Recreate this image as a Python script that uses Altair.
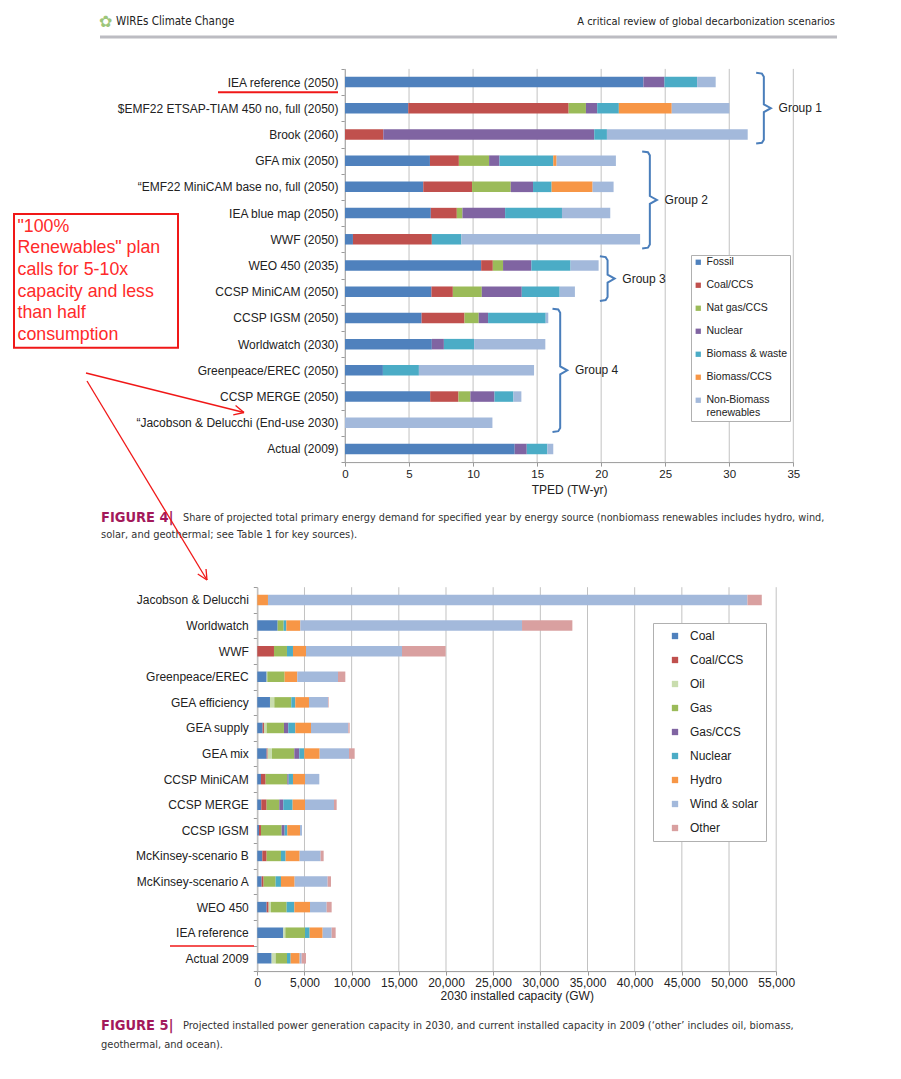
import math
import altair as alt
import pandas as pd

# ---------------- Figure 4 values (TPED, TW-yr) ----------------
fig4_scenarios = [
    "IEA reference (2050)",
    "$EMF22 ETSAP-TIAM 450 no, full (2050)",
    "Brook (2060)",
    "GFA mix (2050)",
    "\u201cEMF22 MiniCAM base no, full (2050)",
    "IEA blue map (2050)",
    "WWF (2050)",
    "WEO 450 (2035)",
    "CCSP MiniCAM (2050)",
    "CCSP IGSM (2050)",
    "Worldwatch (2030)",
    "Greenpeace/EREC (2050)",
    "CCSP MERGE (2050)",
    "\u201cJacobson & Delucchi (End-use 2030)",
    "Actual (2009)",
]
fig4_sources = ["Fossil", "Coal/CCS", "Nat gas/CCS", "Nuclear", "Biomass & waste",
                "Biomass/CCS", "Non-Biomass renewables"]
fig4_fossil = [23.3, 4.94, 0, 6.63, 6.11, 6.7, 0.62, 10.63, 6.75, 5.98, 6.78, 2.96, 6.65, 0, 13.25]
fig4_coal_ccs = [0, 12.52, 2.99, 2.26, 3.81, 2.03, 6.16, 0.91, 1.67, 3.35, 0, 0, 2.21, 0, 0]
fig4_natgas_ccs = [0, 1.35, 0, 2.36, 3.02, 0.44, 0, 0.8, 2.26, 1.11, 0, 0, 0.93, 0, 0]
fig4_nuclear = [1.64, 0.88, 16.47, 0.81, 1.74, 3.33, 0, 2.21, 3.12, 0.73, 0.94, 0, 1.88, 0, 0.94]
fig4_biomass = [2.55, 1.69, 0.99, 4.2, 1.45, 4.44, 2.31, 3.06, 2.96, 4.5, 2.36, 2.81, 1.48, 0, 1.61]
fig4_biomass_ccs = [0, 4.13, 0, 0.26, 3.2, 0, 0, 0, 0, 0, 0, 0, 0, 0, 0]
fig4_nonbio = [1.45, 4.5, 10.99, 4.63, 1.64, 3.77, 13.95, 2.19, 1.19, 0.2, 5.56, 8.99, 0.62, 11.51, 0.46]
fig4_ticks = [0, 5, 10, 15, 20, 25, 30, 35]

group_names = ["Group 1", "Group 2", "Group 3", "Group 4"]
group_first = [0, 3, 7, 9]
group_last = [2, 6, 8, 13]
group_x = [32.1, 23.2, 19.9, 16.2]

# ---------------- Figure 5 values (GW, 2030) ----------------
fig5_scenarios = ["Jacobson & Delucchi", "Worldwatch", "WWF", "Greenpeace/EREC", "GEA efficiency",
                  "GEA supply", "GEA mix", "CCSP MiniCAM", "CCSP MERGE", "CCSP IGSM",
                  "McKinsey-scenario B", "McKinsey-scenario A", "WEO 450", "IEA reference",
                  "Actual 2009"]
fig5_sources = ["Coal", "Coal/CCS", "Oil", "Gas", "Gas/CCS", "Nuclear", "Hydro", "Wind & solar", "Other"]
fig5_coal = [0, 2156, 0, 990, 1343, 565, 990, 389, 424, 177, 530, 459, 990, 2757, 1520]
fig5_coal_ccs = [0, 0, 1767, 0, 0, 141, 106, 495, 565, 212, 459, 212, 212, 0, 0]
fig5_oil = [0, 0, 0, 70, 459, 283, 459, 0, 0, 0, 0, 0, 247, 212, 424]
fig5_gas = [0, 636, 1378, 1838, 1802, 1838, 2368, 2297, 1343, 2191, 1520, 1272, 1661, 2085, 1202]
fig5_gas_ccs = [0, 0, 0, 0, 0, 459, 530, 141, 424, 318, 0, 0, 0, 0, 0]
fig5_nuclear = [0, 283, 636, 0, 424, 742, 530, 459, 990, 283, 495, 565, 813, 495, 389]
fig5_hydro = [1131, 1484, 1378, 1343, 1449, 1661, 1626, 1272, 1308, 1343, 1484, 1449, 1661, 1378, 954]
fig5_wind_solar = [50820, 23500, 10178, 4312, 2014, 3958, 3110, 1520, 3075, 212, 2226, 3499, 1767, 954, 212]
fig5_other = [1520, 5336, 4630, 777, 70, 141, 601, 0, 283, 0, 318, 353, 530, 424, 459]
fig5_ticks = [0, 5000, 10000, 15000, 20000, 25000, 30000, 35000, 40000, 45000, 50000, 55000]

# ---------------- styles ----------------
fig4_colors = ["#4F81BD", "#C0504D", "#9BBB59", "#8064A2", "#4BACC6", "#F79646", "#A3B9DB"]
fig5_colors = ["#4F81BD", "#C0504D", "#C9DDAE", "#9BBB59", "#8064A2", "#4BACC6", "#F79646", "#A3B9DB", "#D9A0A0"]
FONT = "Liberation Sans, Arial, Helvetica, sans-serif"
NARROW = "Liberation Sans Narrow, Arial Narrow, DejaVu Sans Condensed, Liberation Sans, sans-serif"
RED = "#f01818"
W, H = 885, 1060
TOP_X = [337, 785.3]
TOP_Y = [60.9, 454.1]
BOT_X = [249.3, 768.2]
BOT_Y = [579.2, 963.1]


def long_table(scenarios, sources, series):
    rows = []
    for i, sc in enumerate(scenarios):
        for k, (src, vals) in enumerate(zip(sources, series)):
            rows.append({"scenario": sc, "source": src, "value": vals[i], "k": k})
    return pd.DataFrame(rows)


df4 = long_table(fig4_scenarios, fig4_sources,
                 [fig4_fossil, fig4_coal_ccs, fig4_natgas_ccs, fig4_nuclear, fig4_biomass,
                  fig4_biomass_ccs, fig4_nonbio])
df5 = long_table(fig5_scenarios, fig5_sources,
                 [fig5_coal, fig5_coal_ccs, fig5_oil, fig5_gas, fig5_gas_ccs, fig5_nuclear,
                  fig5_hydro, fig5_wind_solar, fig5_other])

x4 = alt.Scale(domain=[0, 35], range=TOP_X, nice=False, zero=False)
y4 = alt.Scale(domain=fig4_scenarios, range=TOP_Y, paddingInner=0, paddingOuter=0)
r4 = alt.Scale(domain=[-0.5, 14.5], range=TOP_Y, nice=False, zero=False)
x5 = alt.Scale(domain=[0, 55000], range=BOT_X, nice=False, zero=False)
y5 = alt.Scale(domain=fig5_scenarios, range=BOT_Y, paddingInner=0, paddingOuter=0)
r5 = alt.Scale(domain=[-0.5, 14.5], range=BOT_Y, nice=False, zero=False)


def grid(ticks, xs, rs):
    d = pd.DataFrame({"t": ticks, "lo": [-0.5] * len(ticks), "hi": [14.5] * len(ticks)})
    return alt.Chart(d).mark_rule(color="#c2c2c2", strokeWidth=1).encode(
        x=alt.X("t:Q", scale=xs, axis=None),
        y=alt.Y("lo:Q", scale=rs, axis=None),
        y2="hi:Q",
    )


def bars(df, xs, ys, ticks, xtitle, xfmt, yoff_axis, xoff_axis, sources, colors, legend,
         lab_pad, title_pad, xlab_size):
    return alt.Chart(df).mark_bar(size=10.5).encode(
        y=alt.Y("scenario:N", scale=ys, title=None,
                axis=alt.Axis(orient="left", offset=-yoff_axis, labelFont=FONT, labelFontSize=12,
                              labelColor="#222", labelLimit=400, tickBand="extent", tickSize=4,
                              tickColor="#9a9a9a", domainColor="#9a9a9a", labelPadding=lab_pad,
                              grid=False)),
        x=alt.X("value:Q", stack="zero", scale=xs,
                axis=alt.Axis(orient="bottom", offset=xoff_axis - H, values=ticks, format=xfmt,
                              title=xtitle, titleFont=FONT, titleFontSize=12,
                              titleFontWeight="normal", titleColor="#222", titlePadding=title_pad,
                              labelFont=FONT, labelFontSize=xlab_size, labelColor="#222",
                              labelFlush=False, labelOverlap=False, labelPadding=2,
                              tickSize=4, tickColor="#9a9a9a", domainColor="#9a9a9a", grid=False)),
        color=alt.Color("source:N", scale=alt.Scale(domain=sources, range=colors), legend=legend),
        order=alt.Order("k:Q"),
    )


legend4 = alt.Legend(orient="none", legendX=683, legendY=247, title=None, symbolType="square",
                     symbolSize=28, symbolStrokeWidth=0, labelFont=FONT, labelFontSize=10.5,
                     labelColor="#222", labelLimit=300, rowPadding=12, labelOffset=3, padding=2,
                     strokeColor="#b0b0b0", fillColor="white",
                     labelExpr="datum.label == 'Non-Biomass renewables' ? ['Non-Biomass', 'renewables'] : datum.label")
legend5 = alt.Legend(orient="none", legendX=645, legendY=615, title=None, symbolType="square",
                     symbolSize=40, symbolStrokeWidth=0, labelFont=FONT, labelFontSize=12,
                     labelColor="#222", labelLimit=300, rowPadding=12, labelOffset=9, padding=7,
                     symbolOffset=9, strokeColor="#b0b0b0", fillColor="white")

bars4 = bars(df4, x4, y4, fig4_ticks, "TPED (TW-yr)", "d", TOP_X[0], TOP_Y[1], fig4_sources,
             fig4_colors, legend4, 3, 5, 11.5)
bars5 = bars(df5, x5, y5, fig5_ticks, "2030 installed capacity (GW)", ",.0f", BOT_X[0], BOT_Y[1],
             fig5_sources, fig5_colors, legend5, 5, 2, 12)

# ---- group brackets (curly braces) on the Figure 4 scales ----
brows = []
lrows = []
for g, name in enumerate(group_names):
    gx = group_x[g]
    top = group_first[g] - 0.35
    bot = group_last[g] + 0.35
    mid = (top + bot) / 2
    xs = gx + 0.6
    xt = xs + 0.55
    pts = [(gx, top), (gx + 0.45, top + 0.03), (xs, top + 0.15), (xs, mid - 0.15), (xt, mid),
           (xs, mid + 0.15), (xs, bot - 0.15), (gx + 0.45, bot - 0.03), (gx, bot)]
    for i, (px, py) in enumerate(pts):
        brows.append({"g": name, "i": i, "bx": px, "by": py})
    lrows.append({"g": name, "lx": gx + 1.75, "ly": mid})

brackets = alt.Chart(pd.DataFrame(brows)).mark_line(color="#4a7ebb", strokeWidth=2).encode(
    x=alt.X("bx:Q", scale=x4, axis=None),
    y=alt.Y("by:Q", scale=r4, axis=None),
    detail="g:N",
    order=alt.Order("i:Q"),
)
bracket_labels = alt.Chart(pd.DataFrame(lrows)).mark_text(
    align="left", baseline="middle", font=FONT, fontSize=12, color="#222").encode(
    x=alt.X("lx:Q", scale=x4, axis=None),
    y=alt.Y("ly:Q", scale=r4, axis=None),
    text="g:N",
)


# ---------------- page decorations ----------------
def txt(s, x, y, size, color="#222", font=FONT, weight="normal", align="left"):
    return alt.Chart(alt.Data(values=[{"t": s}])).mark_text(
        align=align, baseline="middle", font=font, fontSize=size, color=color,
        fontWeight=weight).encode(x=alt.value(x), y=alt.value(y), text="t:N")


def seg(x1, y1, x2, y2, color, width):
    return alt.Chart(alt.Data(values=[{"a": 0}])).mark_rule(
        color=color, strokeWidth=width).encode(
        x=alt.value(x1), y=alt.value(y1), x2=alt.value(x2), y2=alt.value(y2))


def arrow(x1, y1, x2, y2, head=11, ang=26):
    out = [seg(x1, y1, x2, y2, RED, 1.3)]
    L = math.hypot(x2 - x1, y2 - y1)
    vx, vy = -(x2 - x1) / L, -(y2 - y1) / L
    for s in (1, -1):
        a = math.radians(ang * s)
        rx = vx * math.cos(a) - vy * math.sin(a)
        ry = vx * math.sin(a) + vy * math.cos(a)
        out.append(seg(x2, y2, x2 + head * rx, y2 + head * ry, RED, 1.3))
    return out


deco = []
# header
deco.append(txt("\u273f", 97, 14, 16, color="#9dc67a", align="center"))
deco.append(txt("WIREs Climate Change", 108, 14, 11.5, font=NARROW))
deco.append(txt("A critical review of global decarbonization scenarios", 827, 14, 11,
                font=NARROW, align="right"))
deco.append(seg(92, 29, 829, 29, "#bcbcc2", 3))
# captions
deco.append(txt("FIGURE 4|", 93, 510, 14.5, color="#a3195b", weight="bold", font=NARROW))
deco.append(txt("Share of projected total primary energy demand for specified year by energy source "
                "(nonbiomass renewables includes hydro, wind,", 175, 510, 10.8, font=NARROW,
                color="#333"))
deco.append(txt("solar, and geothermal; see Table 1 for key sources).", 93, 527, 11, font=NARROW,
                color="#333"))
deco.append(txt("FIGURE 5|", 93, 1018, 14.5, color="#a3195b", weight="bold", font=NARROW))
deco.append(txt("Projected installed power generation capacity in 2030, and current installed "
                "capacity in 2009 (\u2018other\u2019 includes oil, biomass,", 175, 1018, 11,
                font=NARROW, color="#333"))
deco.append(txt("geothermal, and ocean).", 93, 1037, 11, font=NARROW, color="#333"))
# red annotation box
deco.append(alt.Chart(alt.Data(values=[{"a": 0}])).mark_rect(
    fill="white", stroke=RED, strokeWidth=2).encode(
    x=alt.value(6), x2=alt.value(170), y=alt.value(206), y2=alt.value(339.7)))
note_lines = ["\"100%", "Renewables\" plan", "calls for 5-10x", "capacity and less", "than half",
              "consumption"]
for i, line in enumerate(note_lines):
    deco.append(txt(line, 9.5, 218.7 + i * 21.66, 17.8, color="#ff2a2a"))
deco += arrow(78, 365, 236, 404.5)
deco += arrow(79, 373, 199, 572)
deco.append(seg(210, 84.3, 330, 84.3, RED, 2))
deco.append(seg(162, 938, 246, 938, RED, 1.5))

chart = alt.layer(
    grid(fig4_ticks, x4, r4), grid(fig5_ticks, x5, r5), bars4, bars5, brackets, bracket_labels,
    *deco
).resolve_scale(
    x="independent", y="independent", color="independent"
).resolve_axis(
    x="independent", y="independent"
).resolve_legend(
    color="independent"
).properties(
    width=W, height=H, autosize=alt.AutoSizeParams(type="none"), padding=0, background="white"
).configure_view(stroke=None)

chart.save("out.html", embed_options={"renderer": "svg", "actions": False})
